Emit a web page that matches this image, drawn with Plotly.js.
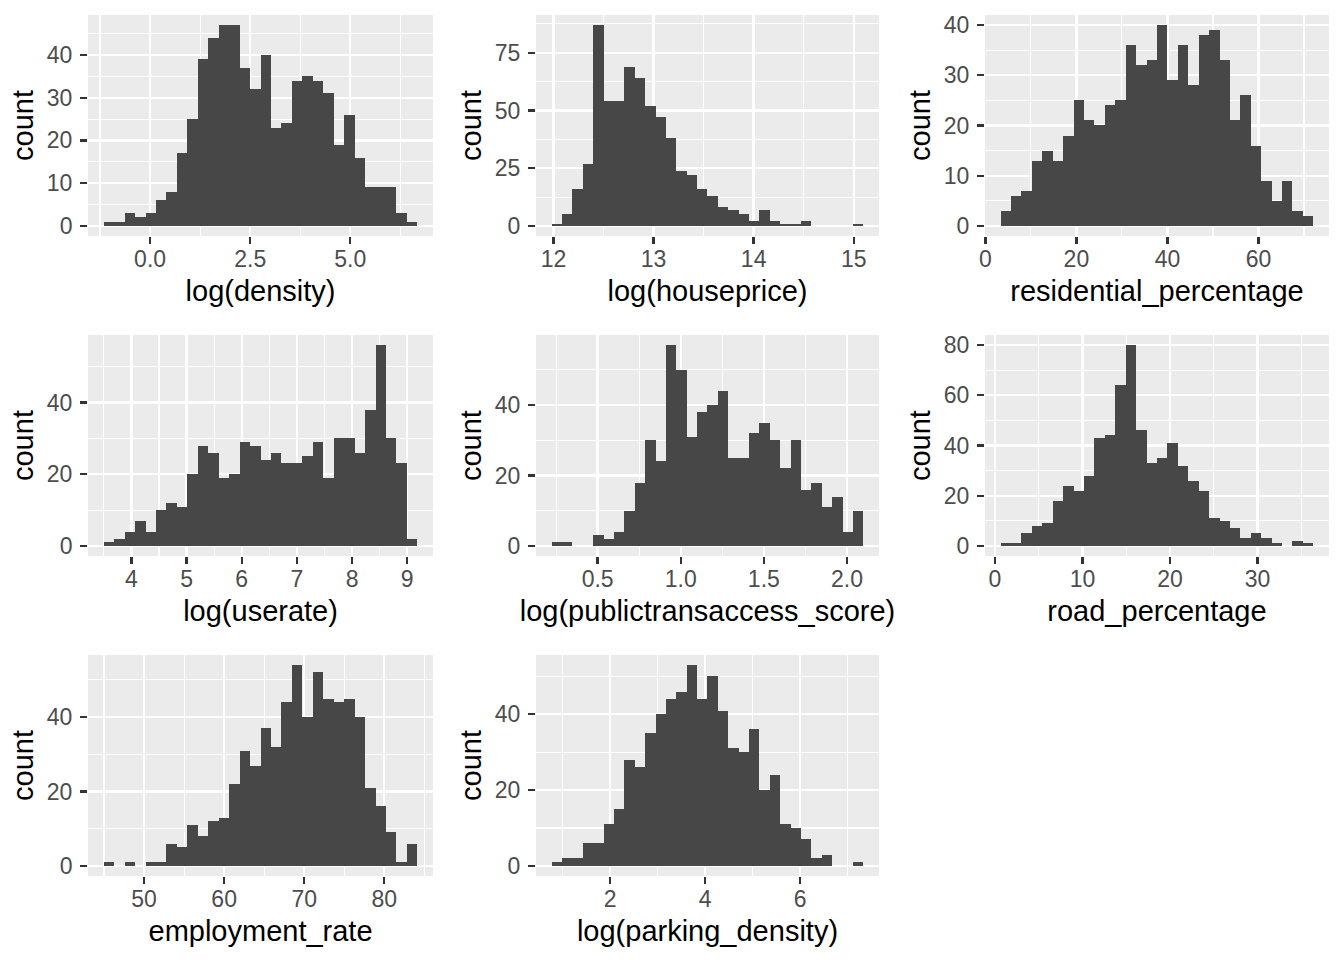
<!DOCTYPE html>
<html>
<head>
<meta charset="utf-8">
<script src="https://cdn.plot.ly/plotly-3.0.1.min.js"></script>
<style>
  html, body { margin: 0; padding: 0; background: #fff; }
  #chart { width: 1344px; height: 960px; }
</style>
</head>
<body>
<div id="chart"></div>
<script>
// counts per bin (30 bins, n = 625)
const densityCounts      = [1, 1, 3, 2, 3, 6, 8, 17, 25, 39, 44, 47, 47, 37, 32, 40, 23, 24, 34, 35, 34, 31, 19, 26, 16, 9, 9, 9, 3, 1];
const housepriceCounts   = [1, 5, 16, 27, 87, 54, 54, 69, 64, 52, 47, 38, 24, 22, 16, 13, 8, 7, 5, 2, 7, 2, 1, 1, 2, 0, 0, 0, 0, 1];
const residentialCounts  = [3, 6, 7, 13, 15, 13, 18, 25, 21, 20, 24, 25, 36, 32, 33, 40, 29, 36, 28, 38, 39, 33, 21, 26, 16, 9, 5, 9, 3, 2];
const userateCounts      = [1, 2, 4, 7, 4, 10, 12, 11, 20, 28, 26, 19, 20, 29, 28, 24, 26, 23, 23, 25, 29, 19, 30, 30, 26, 38, 56, 30, 23, 2];
const transitCounts      = [1, 1, 0, 0, 3, 2, 4, 10, 18, 30, 24, 57, 50, 31, 38, 40, 44, 25, 25, 32, 35, 30, 22, 30, 16, 18, 11, 14, 4, 10];
const roadCounts         = [1, 1, 5, 8, 9, 18, 24, 22, 28, 43, 44, 64, 80, 46, 33, 35, 41, 32, 26, 22, 11, 10, 7, 3, 5, 3, 1, 0, 2, 1];
const employmentCounts   = [1, 0, 1, 0, 1, 1, 6, 5, 11, 8, 12, 13, 22, 31, 27, 37, 32, 44, 54, 40, 52, 45, 44, 45, 40, 21, 16, 9, 1, 6];
const parkingCounts      = [1, 2, 2, 6, 6, 11, 15, 28, 26, 35, 40, 44, 46, 53, 44, 50, 41, 31, 30, 36, 20, 24, 11, 10, 7, 2, 3, 0, 0, 1];

// outer edges of the first and last bin
const densityEdges     = [-1.158, 6.675];
const housepriceEdges  = [11.980, 15.097];
const residentialEdges = [3.36, 72.04];
const userateEdges     = [3.498, 9.184];
const transitEdges     = [0.2228, 2.099];
const roadEdges        = [0.646, 36.38];
const employmentEdges  = [44.96, 84.125];
const parkingEdges     = [0.7644, 7.333];

// x axis labels and major breaks
const xTitles = ['log(density)', 'log(houseprice)', 'residential_percentage',
                 'log(userate)', 'log(publictransaccess_score)', 'road_percentage',
                 'employment_rate', 'log(parking_density)'];
const xBreaks = [[0, 2.5], [12, 1], [0, 20], [4, 1], [0.5, 0.5], [0, 10], [50, 10], [2, 2]]; // [tick0, step]
const xFormats = ['.1f', '', '', '', '.1f', '', '', ''];
const yBreaks = [10, 25, 10, 20, 20, 20, 20, 20];

const counts = [densityCounts, housepriceCounts, residentialCounts, userateCounts,
                transitCounts, roadCounts, employmentCounts, parkingCounts];
const edges = [densityEdges, housepriceEdges, residentialEdges, userateEdges,
               transitEdges, roadEdges, employmentEdges, parkingEdges];

// facet grid geometry (paper fractions) — 3 columns x 3 rows
const colDomains = [[0.0655, 0.3222], [0.3988, 0.6540], [0.7329, 0.9888]];
const rowDomains = [[0.7542, 0.9844], [0.4208, 0.6510], [0.0875, 0.3177]];

const TXT = 'Liberation Sans, Arial, sans-serif';
const traces = [];
const layout = {
  width: 1344, height: 960,
  margin: { l: 0, r: 0, t: 0, b: 0 },
  paper_bgcolor: '#ffffff', plot_bgcolor: '#ebebeb',
  font: { family: TXT, color: '#000' },
  showlegend: false, bargap: 0
};

counts.forEach((c, i) => {
  const [lo, hi] = edges[i];
  const w = (hi - lo) / c.length;
  const n = i + 1;
  const xa = 'xaxis' + (n === 1 ? '' : n), ya = 'yaxis' + (n === 1 ? '' : n);
  traces.push({
    type: 'bar',
    x: c.map((_, k) => lo + w * (k + 0.5)),
    y: c,
    width: w,
    marker: { color: '#474747', line: { width: 0 } },
    xaxis: 'x' + (n === 1 ? '' : n), yaxis: 'y' + (n === 1 ? '' : n),
    hoverinfo: 'x+y'
  });

  const pad = (hi - lo) * 0.05;
  const ymax = Math.max(...c);
  const [t0, step] = xBreaks[i];
  const common = {
    showline: false, zeroline: false,
    gridcolor: '#ffffff', gridwidth: 2.3,
    ticks: 'outside', ticklen: 7, tickwidth: 2.3, tickcolor: '#333333',
    tickfont: { family: TXT, size: 23, color: '#4d4d4d' },
    fixedrange: true
  };
  layout[xa] = Object.assign({}, common, {
    domain: colDomains[i % 3], anchor: 'y' + (n === 1 ? '' : n),
    range: [lo - pad, hi + pad],
    tickmode: 'linear', tick0: t0, dtick: step, tickformat: xFormats[i],
    ticklabelstandoff: -5,
    minor: { tick0: t0, dtick: step / 2, showgrid: true, gridcolor: '#ffffff', gridwidth: 1.1, ticks: '' },
    title: { text: xTitles[i], font: { family: TXT, size: 29, color: '#000' }, standoff: 10 }
  });
  layout[ya] = Object.assign({}, common, {
    domain: rowDomains[Math.floor(i / 3)], anchor: 'x' + (n === 1 ? '' : n),
    range: [-ymax * 0.05, ymax * 1.05],
    tickmode: 'linear', tick0: 0, dtick: yBreaks[i],
    ticklabelstandoff: 3,
    minor: { tick0: 0, dtick: yBreaks[i] / 2, showgrid: true, gridcolor: '#ffffff', gridwidth: 1.1, ticks: '' },
    title: { text: 'count', font: { family: TXT, size: 29, color: '#000' }, standoff: 4 }
  });
});

Plotly.newPlot('chart', traces, layout, { displayModeBar: false, staticPlot: true });
</script>
</body>
</html>
